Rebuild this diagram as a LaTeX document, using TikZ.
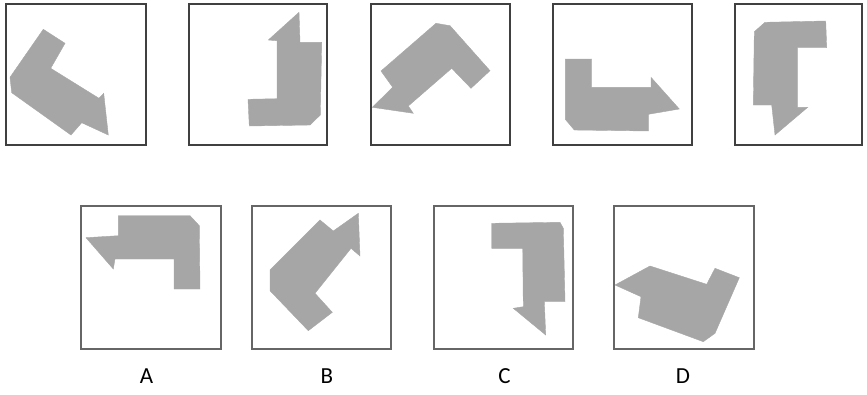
\documentclass[tikz,border=0pt]{standalone}
\usepackage{fontspec}
\setmainfont{Carlito}
\begin{document}
\begin{tikzpicture}[x=1pt,y=-1pt,
  frame/.style={draw=black!75,line width=1.3pt},
  frameb/.style={draw=black!60,line width=1.5pt},
  figfill/.style={fill=black!35,draw=black!35,line width=0.4pt,line join=miter},
  lab/.style={font=\fontsize{23}{23}\selectfont,anchor=base,inner sep=0pt}]
\useasboundingbox (0,0) rectangle (867,394);
% top row frames
\draw[frame] (6,4) rectangle (146,145);
\draw[frame] (189,4) rectangle (327,145);
\draw[frame] (371,4) rectangle (510,145);
\draw[frame] (553,4) rectangle (692,145);
\draw[frame] (735,4) rectangle (862,145);
% top row shapes
\filldraw[figfill] (43.3,29.3) -- (65,43.3) -- (50.7,68.3) -- (99,98.3) -- (103.7,93.3) -- (108.3,135) -- (81.7,122.7) -- (71,135) -- (11.7,92.7) -- (10,77.3) -- cycle;
\filldraw[figfill] (299,12.3) -- (300,42.3) -- (321.7,42.3) -- (320.3,115) -- (310,125) -- (249.3,126) -- (248,99.3) -- (277,98.7) -- (277,40.7) -- (268.3,40) -- cycle;
\filldraw[figfill] (436,23.3) -- (450,25.7) -- (490,70.7) -- (471,88.3) -- (451.7,68.3) -- (408.3,106) -- (413.3,113.3) -- (372.3,107.3) -- (392.7,87.3) -- (381,71) -- cycle;
\filldraw[figfill] (565.3,59) -- (591.7,59) -- (591.7,87.3) -- (651,87.3) -- (651,77.3) -- (679.3,109) -- (648.3,114.3) -- (648.3,131) -- (574.3,130) -- (565.3,119.3) -- cycle;
\filldraw[figfill] (765,22.3) -- (825.7,21) -- (826.7,47.7) -- (797.3,47.7) -- (797.3,107.3) -- (807.7,107.3) -- (775,135) -- (771.7,105) -- (753.3,105) -- (754.3,31.7) -- cycle;
% bottom row frames
\draw[frameb] (81,206) rectangle (221,349);
\draw[frameb] (252,206) rectangle (391,349);
\draw[frameb] (434,206) rectangle (573,349);
\draw[frameb] (614,206) rectangle (754,349);
% bottom row shapes
\filldraw[figfill] (118.3,215.7) -- (190,215.7) -- (199.3,225.7) -- (200,289) -- (174,289) -- (174,259) -- (115,259) -- (113.3,269) -- (86,237.7) -- (118.3,235.7) -- cycle;
\filldraw[figfill] (358.3,213.3) -- (360,256) -- (351,248.3) -- (315,293.3) -- (332.3,312.3) -- (308.3,330.7) -- (270,290.7) -- (270,270) -- (320,220) -- (333.3,231) -- cycle;
\filldraw[figfill] (491.7,223.3) -- (560,222.3) -- (563.3,228.3) -- (565,301.7) -- (544.3,301.7) -- (545.7,335) -- (513.3,308.3) -- (523.3,306.7) -- (522.7,248.3) -- (491.7,248.3) -- cycle;
\filldraw[figfill] (615,285) -- (650,266) -- (706.7,284.3) -- (715,268.3) -- (739.3,277.7) -- (715,333.3) -- (703.3,341.7) -- (638.3,317.7) -- (641,296.7) -- cycle;
% labels
\node[lab] (la) at (146.5,383.5) {A};
\node[lab] (lb) at (327,383.5) {B};
\node[lab] (lc) at (504.5,383.5) {C};
\node[lab] (ld) at (683,383.5) {D};
\end{tikzpicture}
\end{document}
